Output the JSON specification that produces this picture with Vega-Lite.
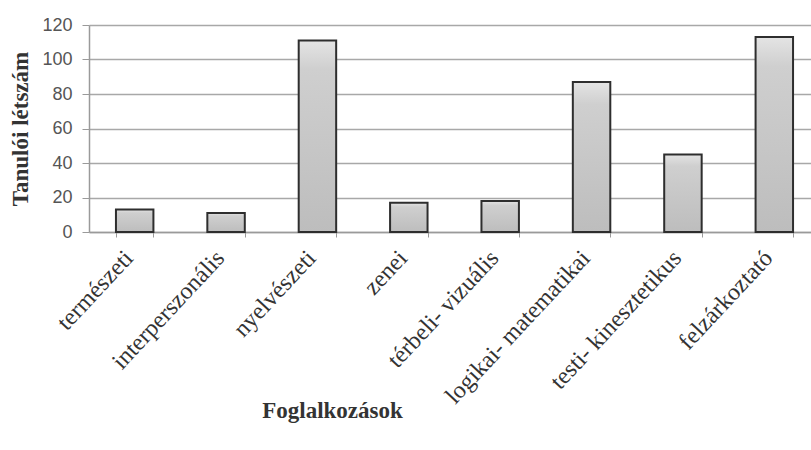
{
  "$schema": "https://vega.github.io/schema/vega-lite/v6.json",
  "autosize": {"type": "none"},
  "padding": {"left": 89, "top": 25, "right": 0, "bottom": 218},
  "width": 722,
  "height": 207,
  "background": "white",
  "config": {"view": {"stroke": null}},
  "data": {
    "values": [
      {"kategoria": "természeti", "letszam": 13},
      {"kategoria": "interperszonális", "letszam": 11},
      {"kategoria": "nyelvészeti", "letszam": 111},
      {"kategoria": "zenei", "letszam": 17},
      {"kategoria": "térbeli- vizuális", "letszam": 18},
      {"kategoria": "logikai- matematikai", "letszam": 87},
      {"kategoria": "testi- kinesztetikus", "letszam": 45},
      {"kategoria": "felzárkoztató", "letszam": 113}
    ]
  },
  "mark": {
    "type": "bar",
    "stroke": "#2e2e2e",
    "strokeWidth": 2,
    "color": {
      "gradient": "linear",
      "x1": 0, "y1": 0, "x2": 0, "y2": 1,
      "stops": [
        {"offset": 0, "color": "#e4e4e4"},
        {"offset": 0.15, "color": "#cfcfcf"},
        {"offset": 1, "color": "#bdbdbd"}
      ]
    }
  },
  "encoding": {
    "x": {
      "field": "kategoria",
      "type": "nominal",
      "sort": null,
      "scale": {"range": [0, 731], "paddingInner": 0.59, "paddingOuter": 0.295},
      "axis": {
        "title": "Foglalkozások",
        "titleFont": "Liberation Serif",
        "titleFontSize": 23,
        "titleFontWeight": "bold",
        "titleColor": "#333333",
        "titleX": 243,
        "titleY": 178,
        "titleAlign": "center",
        "titleBaseline": "middle",
        "labelAngle": -47,
        "labelFont": "Liberation Serif",
        "labelFontSize": 24,
        "labelColor": "#333333",
        "labelPadding": 17,
        "labelOffset": -6,
        "labelLimit": 500,
        "labelOverlap": false,
        "labelBound": false,
        "domainColor": "#9a9a9a",
        "domainWidth": 1.5,
        "tickBand": "extent",
        "tickSize": 5,
        "tickColor": "#9a9a9a",
        "grid": false
      }
    },
    "y": {
      "field": "letszam",
      "type": "quantitative",
      "scale": {"domain": [0, 120], "nice": false},
      "axis": {
        "title": "Tanulói létszám",
        "titleFont": "Liberation Serif",
        "titleFontSize": 23,
        "titleFontWeight": "bold",
        "titleColor": "#333333",
        "titlePadding": 9,
        "values": [0, 20, 40, 60, 80, 100, 120],
        "labelFont": "Liberation Sans",
        "labelFontSize": 18,
        "labelColor": "#555555",
        "labelPadding": 10,
        "domainColor": "#9a9a9a",
        "domainWidth": 1.5,
        "tickColor": "#9a9a9a",
        "tickSize": 7,
        "gridColor": "#a8a8a8",
        "gridWidth": 1.5
      }
    }
  }
}
